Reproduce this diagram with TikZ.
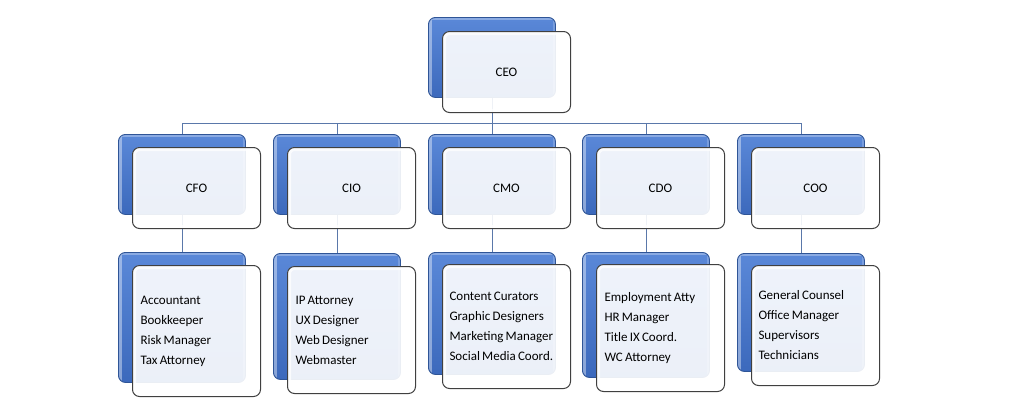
\documentclass[tikz,border=0pt]{standalone}
\usepackage{fontspec}
\setmainfont{Carlito}
\newcommand\boxfont{\fontsize{13}{20}\selectfont}
\newcommand\tightsp{\spaceskip=0.17em plus 0.04em\relax\xspaceskip=0.2em\relax}
\definecolor{bluemain}{HTML}{4472C4}
\definecolor{bluetop}{HTML}{5A88D8}
\definecolor{bluebot}{HTML}{3C69BC}
\definecolor{blueedge}{HTML}{2F5597}
\definecolor{frameedge}{HTML}{404040}
\definecolor{connc}{HTML}{5A78AA}
\tikzset{
  back/.style={draw=blueedge, line width=0.9pt, rounded corners=7pt,
    top color=bluetop, bottom color=bluebot, anchor=north west, inner sep=0pt,
    path picture={\draw[white, opacity=0.4, line width=7pt]
      (path picture bounding box.north west) -- (path picture bounding box.south west);
      \draw[white, opacity=0.3, line width=5pt]
      (path picture bounding box.north west) -- (path picture bounding box.north east);
      \draw[white, opacity=0.2, line width=4pt]
      (path picture bounding box.north east) -- (path picture bounding box.south east);}},
  front/.style={draw=frameedge, line width=1pt, rounded corners=7pt,
    fill=white, fill opacity=0.9, text opacity=1, draw opacity=1, anchor=north west,
    minimum width=128pt, inner sep=0pt, font=\boxfont,
    path picture={\draw[white, opacity=0.75, line width=7pt, rounded corners=7pt]
      (path picture bounding box.south west) rectangle (path picture bounding box.north east);}},
  listbox/.style={front, align=left, text width=112pt, inner xsep=8pt,
    execute at begin node=\tightsp},
  conn/.style={draw=connc, line width=0.9pt}
}
\begin{document}
\begin{tikzpicture}[x=1pt,y=-1pt]
\useasboundingbox[fill=white] (0,0) rectangle (1024,408);
% back (blue) boxes
\node[back, minimum width=127pt, minimum height=80pt] (ceoB) at (428,17) {};
\node[back, minimum width=127pt, minimum height=80pt] (cfoB) at (118,134) {};
\node[back, minimum width=127pt, minimum height=80pt] (cioB) at (273,134) {};
\node[back, minimum width=127pt, minimum height=80pt] (cmoB) at (428,134) {};
\node[back, minimum width=127pt, minimum height=80pt] (cdoB) at (582,134) {};
\node[back, minimum width=127pt, minimum height=80pt] (cooB) at (737,134) {};
\node[back, minimum width=127pt, minimum height=130pt] (cfoLB) at (118,252) {};
\node[back, minimum width=127pt, minimum height=126pt] (cioLB) at (273,253) {};
\node[back, minimum width=127pt, minimum height=122pt] (cmoLB) at (428,252) {};
\node[back, minimum width=127pt, minimum height=125pt] (cdoLB) at (582,252) {};
\node[back, minimum width=127pt, minimum height=118pt] (cooLB) at (737,253) {};
% connectors
\coordinate (bus) at (0,123);
\draw[conn] (ceoB.south) -- (ceoB.south |- bus);
\draw[conn] (cfoB.north) |- (bus -| cooB.north) -- (cooB.north);
\draw[conn] (cioB.north) -- (cioB.north |- bus);
\draw[conn] (cmoB.north) -- (cmoB.north |- bus);
\draw[conn] (cdoB.north) -- (cdoB.north |- bus);
\draw[conn] (cfoB.south) -- (cfoLB.north);
\draw[conn] (cioB.south) -- (cioLB.north);
\draw[conn] (cmoB.south) -- (cmoLB.north);
\draw[conn] (cdoB.south) -- (cdoLB.north);
\draw[conn] (cooB.south) -- (cooLB.north);
% front boxes
\node[front, minimum height=81pt] (ceo) at (442,31) {CEO};
\node[front, minimum height=81pt] (cfo) at (132,147) {CFO};
\node[front, minimum height=81pt] (cio) at (287,147) {CIO};
\node[front, minimum height=81pt] (cmo) at (442,147) {CMO};
\node[front, minimum height=81pt] (cdo) at (596,147) {CDO};
\node[front, minimum height=81pt] (coo) at (751,147) {COO};
\node[listbox, minimum height=131pt] (cfoL) at (132,265) {Accountant\\Bookkeeper\\Risk Manager\\Tax Attorney};
\node[listbox, minimum height=127pt] (cioL) at (287,266) {IP Attorney\\UX Designer\\Web Designer\\Webmaster};
\node[listbox, minimum height=124pt, inner xsep=7pt, text width=114pt] (cmoL) at (442,264) {Content Curators\\Graphic Designers\\Marketing Manager\\Social Media Coord.};
\node[listbox, minimum height=127pt] (cdoL) at (596,264) {Employment Atty\\HR Manager\\Title IX Coord.\\WC Attorney};
\node[listbox, minimum height=120pt, inner xsep=7pt, text width=114pt] (cooL) at (751,265) {General Counsel\\Office Manager\\Supervisors\\Technicians};
\end{tikzpicture}
\end{document}
